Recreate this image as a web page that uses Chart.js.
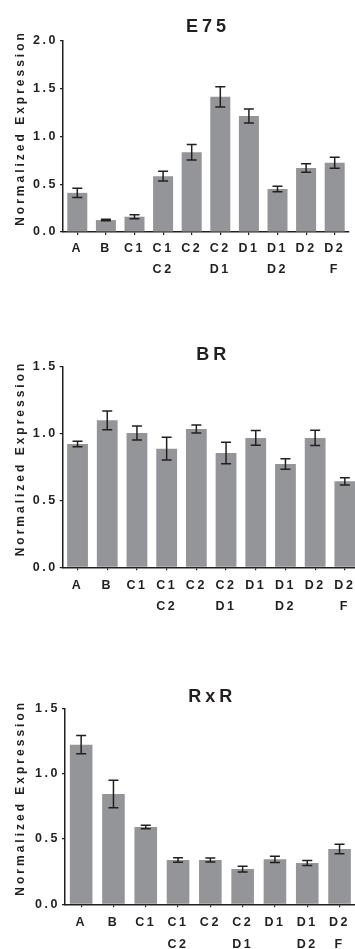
<!DOCTYPE html>
<html>
<head>
<meta charset="utf-8">
<script src="https://cdn.jsdelivr.net/npm/chart.js@4/dist/chart.umd.min.js"></script>
<style>
  html, body { margin: 0; padding: 0; background: #fff; overflow: hidden; width: 355px; height: 949px; }
  .panel { position: absolute; left: 0; }
</style>
</head>
<body>
<div class="panel" style="top:0;width:355px;height:290px"><canvas id="e75Chart"></canvas></div>
<div class="panel" style="top:320px;width:365px;height:290px"><canvas id="brChart"></canvas></div>
<div class="panel" style="top:640px;width:360px;height:309px"><canvas id="rxrChart"></canvas></div>
<script>
// categories
const labels10 = ['A', 'B', 'C1', ['C1', 'C2'], 'C2', ['C2', 'D1'], 'D1', ['D1', 'D2'], 'D2', ['D2', 'F']];
const labels9 = ['A', 'B', 'C1', ['C1', 'C2'], 'C2', ['C2', 'D1'], 'D1', ['D1', 'D2'], ['D2', 'F']];

// E75
const e75Means = [0.41, 0.125, 0.16, 0.585, 0.835, 1.415, 1.215, 0.45, 0.67, 0.725];
const e75Errors = [0.048, 0.008, 0.02, 0.05, 0.08, 0.105, 0.073, 0.028, 0.044, 0.058];
// BR
const brMeans = [0.922, 1.099, 1.004, 0.887, 1.034, 0.855, 0.967, 0.772, 0.967, 0.643];
const brErrors = [0.021, 0.07, 0.052, 0.085, 0.03, 0.08, 0.055, 0.039, 0.057, 0.027];
// RxR
const rxrMeans = [1.222, 0.844, 0.592, 0.339, 0.339, 0.27, 0.344, 0.316, 0.423];
const rxrErrors = [0.07, 0.105, 0.013, 0.017, 0.015, 0.022, 0.024, 0.019, 0.037];

const ink = '#231f20';
const barGrey = '#939598';
const fontFam = "'Liberation Sans', Arial, sans-serif";

// error bars, title and y title (letter-spaced like the original)
const panelDeco = {
  id: 'panelDeco',
  beforeLayout(chart) { chart.ctx.letterSpacing = '2.5px'; },
  beforeDraw(chart) { chart.ctx.letterSpacing = '2.5px'; },
  afterDatasetsDraw(chart) {
    const ctx = chart.ctx;
    const yScale = chart.scales.y;
    const ds = chart.data.datasets[0];
    const meta = chart.getDatasetMeta(0);
    ctx.save();
    ctx.strokeStyle = ink;
    ctx.lineWidth = 1.5;
    meta.data.forEach((bar, i) => {
      const m = ds.data[i], e = ds.errors[i];
      const top = yScale.getPixelForValue(m + e);
      const bot = yScale.getPixelForValue(m - e);
      ctx.beginPath();
      ctx.moveTo(bar.x, top); ctx.lineTo(bar.x, bot);
      ctx.moveTo(bar.x - 5, top); ctx.lineTo(bar.x + 5, top);
      ctx.moveTo(bar.x - 5, bot); ctx.lineTo(bar.x + 5, bot);
      ctx.stroke();
    });
    ctx.restore();
  },
  afterDraw(chart, args, opts) {
    const ctx = chart.ctx;
    const area = chart.chartArea;
    ctx.save();
    ctx.fillStyle = ink;
    // panel title
    ctx.letterSpacing = '4px';
    ctx.font = 'bold 18px ' + fontFam;
    ctx.textAlign = 'center';
    ctx.textBaseline = 'alphabetic';
    ctx.fillText(opts.title, (area.left + area.right) / 2 + 2, opts.titleY);
    // y axis title
    ctx.letterSpacing = '3px';
    ctx.font = 'bold 12px ' + fontFam;
    ctx.textBaseline = 'middle';
    ctx.translate(21, (area.top + area.bottom) / 2 - 7);
    ctx.rotate(-Math.PI / 2);
    ctx.fillText('Normalized Expression', 1.5, 0);
    ctx.restore();
  }
};

function makePanel(id, title, titleY, labels, means, errors, yMax, box) {
  return new Chart(document.getElementById(id), {
    type: 'bar',
    data: {
      labels: labels,
      datasets: [{
        data: means,
        errors: errors,
        backgroundColor: barGrey,
        borderWidth: 0,
        barPercentage: 0.7,
        categoryPercentage: 1.0
      }]
    },
    options: {
      responsive: true,
      maintainAspectRatio: false,
      animation: false,
      layout: { padding: { top: box.top, right: box.right, left: 0, bottom: 0 } },
      plugins: {
        legend: { display: false },
        tooltip: { enabled: false },
        panelDeco: { title: title, titleY: titleY }
      },
      scales: {
        x: {
          afterFit: (s) => { s.height = box.xH; },
          grid: { offset: false, drawOnChartArea: false, drawTicks: true, tickLength: 3, color: ink, lineWidth: 1.2 },
          border: { color: ink, width: 1.5 },
          ticks: {
            color: ink,
            padding: box.tickPad,
            maxRotation: 0,
            autoSkip: false,
            font: { family: fontFam, size: 12.5, weight: 'bold', lineHeight: 1.7 }
          }
        },
        y: {
          min: 0,
          max: yMax,
          afterFit: (s) => { s.width = box.yW; },
          grid: { drawOnChartArea: false, drawTicks: true, tickLength: 3, color: ink, lineWidth: 1.2 },
          border: { color: ink, width: 1.5 },
          ticks: {
            stepSize: 0.5,
            color: ink,
            padding: 2,
            callback: (v) => Number(v).toFixed(1),
            font: { family: fontFam, size: 12.5, weight: 'bold' }
          }
        }
      }
    },
    plugins: [panelDeco]
  });
}

makePanel('e75Chart', 'E75', 32, labels10, e75Means, e75Errors, 2.0,
  { top: 41, right: 6, xH: 58, yW: 63, tickPad: 2.5 });
makePanel('brChart', 'BR', 40, labels10, brMeans, brErrors, 1.5,
  { top: 46.7, right: 5.3, xH: 42.7, yW: 62.7, tickPad: 4.5 });
makePanel('rxrChart', 'RxR', 62, labels9, rxrMeans, rxrErrors, 1.5,
  { top: 68.3, right: 4.3, xH: 44.7, yW: 65, tickPad: 5 });
</script>
</body>
</html>
